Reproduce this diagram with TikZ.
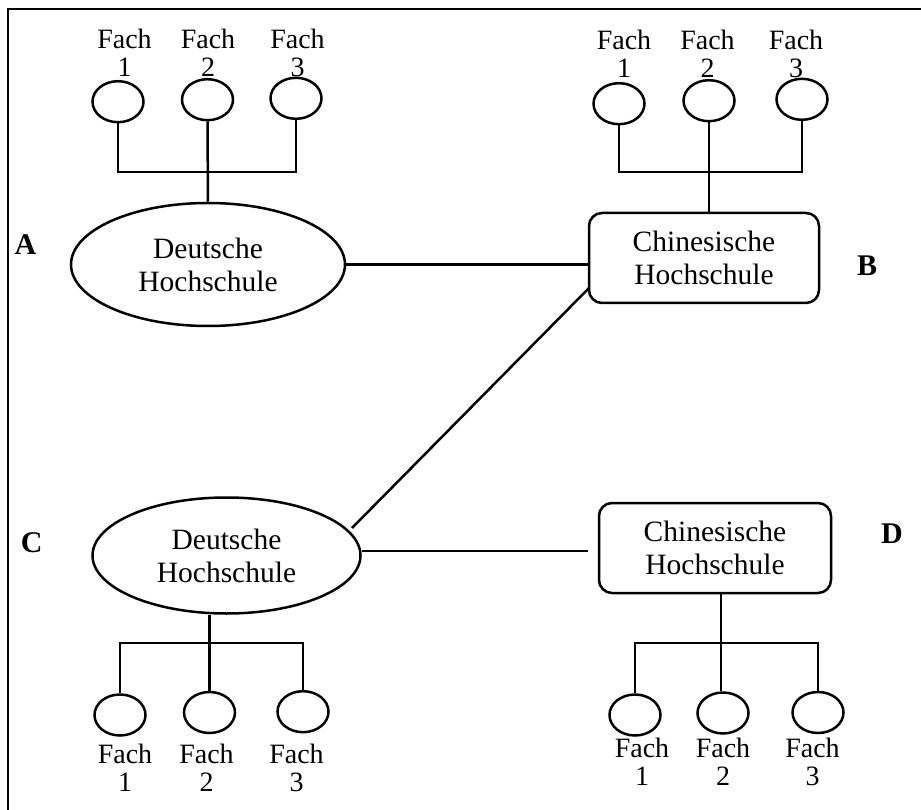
\documentclass[tikz,border=0pt]{standalone}
\usepackage{fontspec}
\setmainfont{Liberation Serif}
\usetikzlibrary{shapes.geometric}
\begin{document}
\begin{tikzpicture}[x=1pt,y=-1pt,line width=2.5pt,
  fach/.style={draw,ellipse,inner sep=0pt,minimum width=51pt,minimum height=41pt},
  fachlbl/.style={inner sep=0pt,align=center,font=\fontsize{28}{28}\selectfont},
  uniell/.style={draw,ellipse,inner sep=0pt,align=center,font=\fontsize{29.5}{33}\selectfont},
  unibox/.style={draw,rectangle,rounded corners=13pt,inner sep=0pt,align=center,minimum width=230pt,minimum height=90pt,font=\fontsize{29.5}{33}\selectfont},
  letter/.style={inner sep=0pt,anchor=base,font=\fontsize{30}{30}\selectfont\bfseries}]
\useasboundingbox (0,0) rectangle (921,810);
\draw[line width=2.8pt] (8,812) -- (8,9) -- (923,9);
% ---- A
\node[uniell,minimum width=274pt,minimum height=123pt] (A) at (208,264.5) {Deutsche\\Hochschule};
\node[letter] (la) at (25.5,255) {A};
\node[fach] (fa1) at (118,101.7) {};
\node[fach] (fa2) at (207.5,99.7) {};
\node[fach] (fa3) at (296,98.3) {};
\node[fachlbl] (ta1) at (124.5,52.5) {Fach\\1};
\node[fachlbl] (ta2) at (208,52.5) {Fach\\2};
\node[fachlbl] (ta3) at (297.5,52.5) {Fach\\3};
\coordinate (ja) at (207.5,172);
\draw (fa1.south) |- (ja) -| (fa3.south);
\draw (fa2.south) -- (A.north);
% ---- B
\node[unibox] (B) at (704,258) {Chinesische\\Hochschule};
\node[letter] (lb) at (867,276) {B};
\node[fach] (fb1) at (619,103.7) {};
\node[fach] (fb2) at (709,100.7) {};
\node[fach] (fb3) at (802,99.3) {};
\node[fachlbl] (tb1) at (624,54) {Fach\\1};
\node[fachlbl] (tb2) at (707.5,54) {Fach\\2};
\node[fachlbl] (tb3) at (796,54) {Fach\\3};
\coordinate (jb) at (709,172);
\draw (fb1.south) |- (jb) -| (fb3.south);
\draw (fb2.south) -- (fb2.south |- B.north);
% ---- C
\node[uniell,minimum width=268pt,minimum height=116pt] (C) at (226.5,555.5) {Deutsche\\Hochschule};
\node[letter] (lc) at (31.7,552) {C};
\node[fach] (fc1) at (120,715) {};
\node[fach] (fc2) at (209.5,712.5) {};
\node[fach] (fc3) at (303,711.7) {};
\node[fachlbl] (tc1) at (125,768) {Fach\\1};
\node[fachlbl] (tc2) at (206.5,768) {Fach\\2};
\node[fachlbl] (tc3) at (296.5,768) {Fach\\3};
\coordinate (jc) at (211,643);
\draw (fc1.north) |- (jc) -| (fc3.north);
\draw (fc2.north |- C.south) -- (fc2.north);
% ---- D
\node[unibox,minimum width=232pt] (D) at (715,548) {Chinesische\\Hochschule};
\node[letter] (ld) at (892,543) {D};
\node[fach] (fd1) at (635,715) {};
\node[fach] (fd2) at (723,713) {};
\node[fach] (fd3) at (818,712.5) {};
\node[fachlbl] (td1) at (642,761.5) {Fach\\1};
\node[fachlbl] (td2) at (723,761.5) {Fach\\2};
\node[fachlbl] (td3) at (812.5,761.5) {Fach\\3};
\coordinate (jd) at (721,643);
\draw (fd1.north) |- (jd) -| (fd3.north);
\draw (jd |- D.south) -- (jd |- fd2.north);
% ---- links
\draw (A.east) -- (A.east -| B.west);
\coordinate (cdend) at (588,551);
\draw (C.east |- cdend) -- (cdend);
\coordinate (bcstart) at (589,288);
\coordinate (bcend) at (352,528);
\draw (bcstart) -- (bcend);
\end{tikzpicture}
\end{document}
